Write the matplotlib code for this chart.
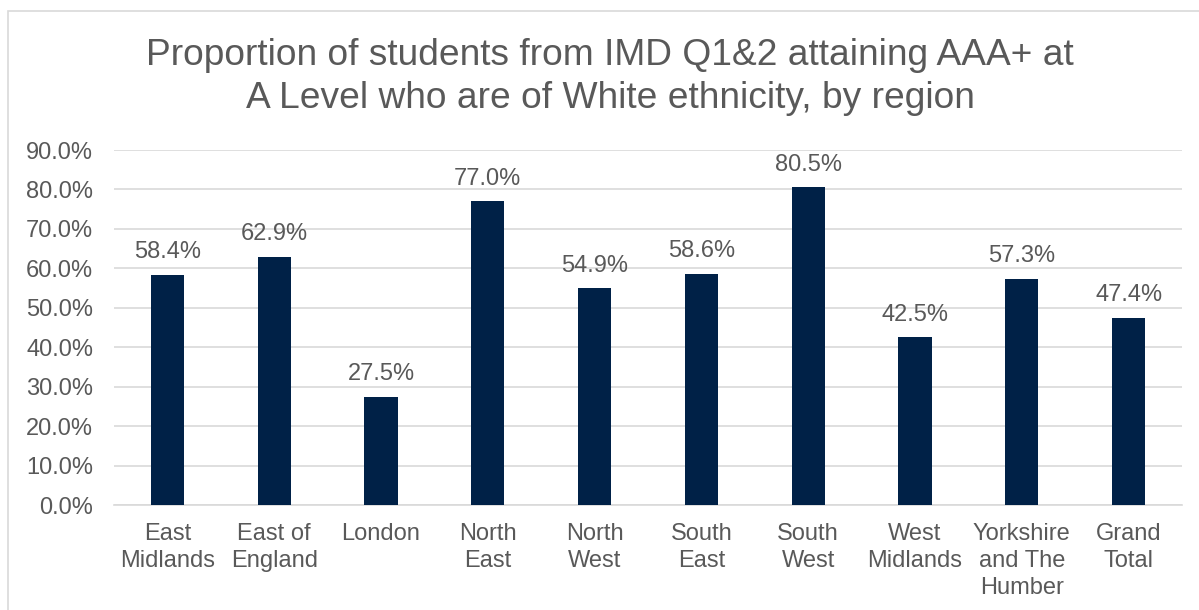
import matplotlib
matplotlib.use("Agg")
import matplotlib.pyplot as plt
from matplotlib.ticker import MultipleLocator, FuncFormatter
from matplotlib.patches import Rectangle

regions = ["East\nMidlands", "East of\nEngland", "London", "North\nEast", "North\nWest",
           "South\nEast", "South\nWest", "West\nMidlands", "Yorkshire\nand The\nHumber",
           "Grand\nTotal"]
shares = [58.4, 62.9, 27.5, 77.0, 54.9, 58.6, 80.5, 42.5, 57.3, 47.4]

title = "Proportion of students from IMD Q1&2 attaining AAA+ at\nA Level who are of White ethnicity, by region"

plt.rcParams["font.family"] = ["Liberation Sans", "DejaVu Sans"]
text_grey = "#595959"
bar_navy = "#002147"
grid_grey = "#D9D9D9"

fig = plt.figure(figsize=(11.99, 6.10), dpi=100)
# outer chart border
fig.patches.append(Rectangle((8 / 1199, -0.01), 1.02, 1 - 11 / 610 + 0.01,
                             transform=fig.transFigure, fill=False,
                             edgecolor=grid_grey, linewidth=1.2))

ax = fig.add_axes([114 / 1199, 1 - 505 / 610, (1182 - 114) / 1199, (505 - 150) / 610])
x = range(len(regions))
bars = ax.bar(x, shares, width=0.31, color=bar_navy, zorder=3)

ax.set_ylim(0, 90)
ax.set_xlim(-0.5, len(regions) - 0.5)
ax.yaxis.set_major_locator(MultipleLocator(10))
ax.yaxis.set_major_formatter(FuncFormatter(lambda v, p: f"{v:.1f}%"))
ax.grid(axis="y", color=grid_grey, linewidth=1.2, zorder=0)
for s in ["top", "right", "left"]:
    ax.spines[s].set_visible(False)
ax.spines["bottom"].set_color(grid_grey)
ax.spines["bottom"].set_linewidth(1.2)
ax.tick_params(axis="both", length=0, labelsize=17, labelcolor=text_grey)
ax.tick_params(axis="y", pad=15)
ax.tick_params(axis="x", pad=13)
ax.set_xticks(list(x))
ax.set_xticklabels(regions, linespacing=1.3, va="top")

for b, v in zip(bars, shares):
    ax.annotate(f"{v:.1f}%", (b.get_x() + b.get_width() / 2, v),
                xytext=(0, 12), textcoords="offset points",
                ha="center", va="baseline", fontsize=17, color=text_grey)

fig.text(0.509, 1 - 77 / 610, title, ha="center", va="center",
         fontsize=26.7, color=text_grey, linespacing=1.27)

fig.savefig("out.png", dpi=100)
